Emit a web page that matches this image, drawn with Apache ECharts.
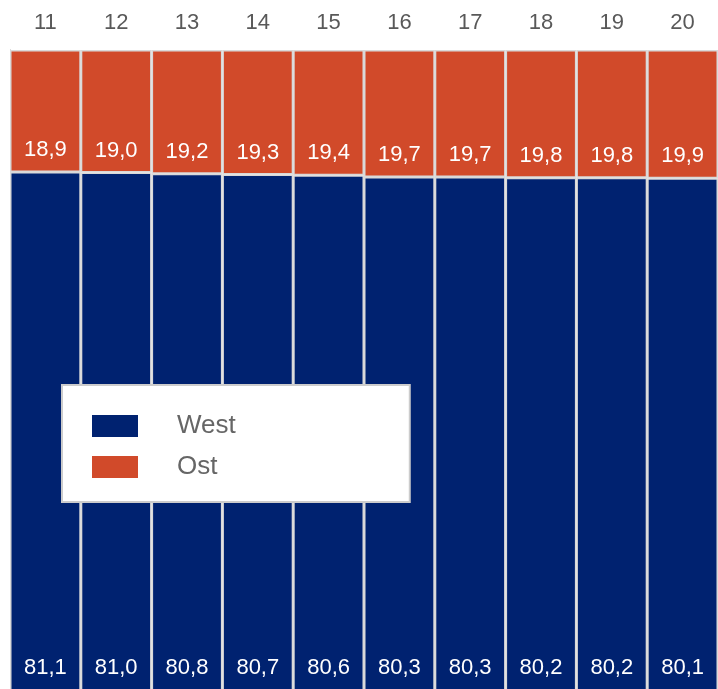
<!DOCTYPE html>
<html><head><meta charset="utf-8">
<script src="https://cdn.jsdelivr.net/npm/echarts@6/dist/echarts.min.js"></script>
<style>html,body{margin:0;padding:0;background:#fff;overflow:hidden}#c{width:718px;height:695px}</style>
</head><body><div id="c"></div>
<script>
const categories = ['11','12','13','14','15','16','17','18','19','20'];
const west = [81.1, 81.0, 80.8, 80.7, 80.6, 80.3, 80.3, 80.2, 80.2, 80.1];
const ost  = [18.9, 19.0, 19.2, 19.3, 19.4, 19.7, 19.7, 19.8, 19.8, 19.9];
const fmt = p => p.value.toFixed(1).replace('.', ',');
const font = 'Liberation Sans, Arial, sans-serif';
const chart = echarts.init(document.getElementById('c'));
chart.setOption({
  animation: false,
  textStyle: {fontFamily: font},
  grid: {left: 10, top: 50, right: 0, bottom: 0, containLabel: false},
  xAxis: {
    type: 'category', data: categories, position: 'top',
    axisLine: {show: true, lineStyle: {color: '#d9d9d9', width: 2}},
    axisTick: {show: false},
    axisLabel: {color: '#595959', fontSize: 22, margin: 16, fontFamily: font}
  },
  yAxis: {
    type: 'value', min: 0, max: 100, show: true,
    axisLine: {show: true, lineStyle: {color: '#a6a6a6', width: 1}},
    axisLabel: {show: false}, axisTick: {show: false}, splitLine: {show: false}
  },
  legend: {
    orient: 'vertical', left: 62, top: 385, z: 10,
    padding: [28, 174, 22, 30], itemGap: 15,
    itemWidth: 46, itemHeight: 22, icon: 'rect',
    itemStyle: {borderWidth: 0},
    backgroundColor: '#fff', borderColor: '#cccccc', borderWidth: 2,
    data: ['West', 'Ost'],
    textStyle: {color: '#666666', fontSize: 26, fontFamily: font, padding: [0, 0, 0, 34]}
  },
  series: [
    {name: 'West', type: 'bar', stack: 's', data: west, barCategoryGap: '0%',
     itemStyle: {color: '#002270', borderColor: '#d9d9d9', borderWidth: 1.5},
     label: {show: true, position: 'insideBottom', distance: 16, color: '#fff', fontSize: 22, fontFamily: font, formatter: fmt}},
    {name: 'Ost', type: 'bar', stack: 's', data: ost, barCategoryGap: '0%',
     itemStyle: {color: '#d14a2a', borderColor: '#d9d9d9', borderWidth: 1.5},
     label: {show: true, position: 'insideBottom', distance: 11, color: '#fff', fontSize: 22, fontFamily: font, formatter: fmt}}
  ]
});
</script></body></html>
